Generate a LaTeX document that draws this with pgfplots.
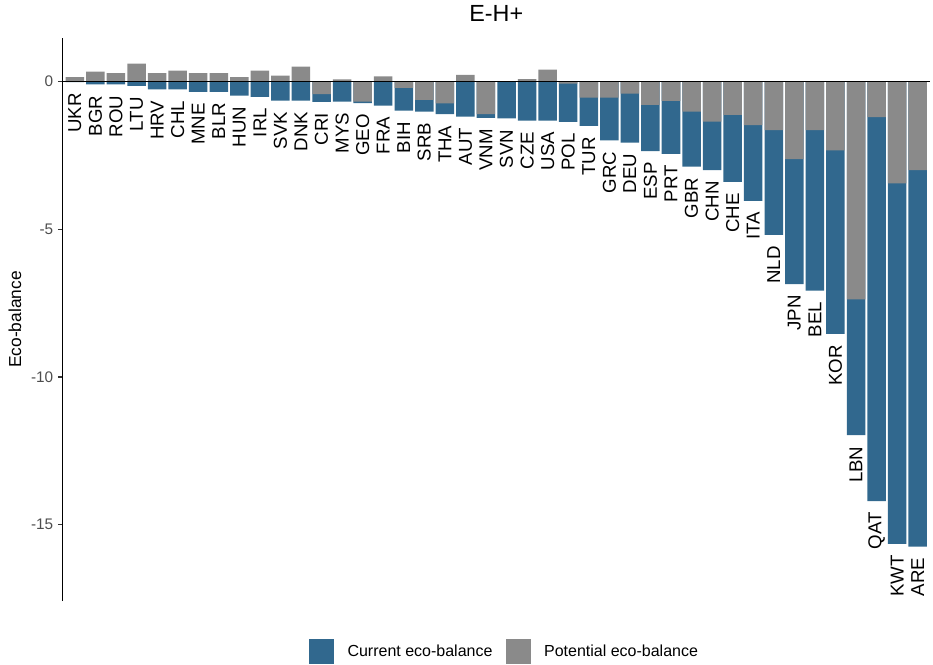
\documentclass[border=0pt]{standalone}
\usepackage{pgfplots}
\pgfplotsset{compat=1.18}
\usepackage{pgfplotstable}
\usepackage{fontspec}
\setmainfont{Liberation Sans}
\definecolor{curblue}{HTML}{31688E}
\definecolor{potgrey}{HTML}{8A8A8A}
\definecolor{grey30}{HTML}{4D4D4D}
\definecolor{grey20}{HTML}{333333}

\pgfplotstableread{
x cur pot lab
1 -0.02 0.15 UKR
2 -0.10 0.33 BGR
3 -0.10 0.28 ROU
4 -0.15 0.60 LTU
5 -0.27 0.28 HRV
6 -0.27 0.37 CHL
7 -0.35 0.28 MNE
8 -0.35 0.28 BLR
9 -0.48 0.15 HUN
10 -0.52 0.37 IRL
11 -0.65 0.20 SVK
12 -0.65 0.50 DNK
13 -0.69 -0.43 CRI
14 -0.68 0.07 MYS
15 -0.73 -0.68 GEO
16 -0.82 0.17 FRA
17 -0.99 -0.22 BIH
18 -1.02 -0.62 SRB
19 -1.11 -0.74 THA
20 -1.19 0.22 AUT
21 -1.23 -1.11 VNM
22 -1.25 0.01 SVN
23 -1.33 0.08 CZE
24 -1.33 0.40 USA
25 -1.37 -0.07 POL
26 -1.50 -0.55 TUR
27 -1.99 -0.55 GRC
28 -2.07 -0.41 DEU
29 -2.36 -0.79 ESP
30 -2.45 -0.66 PRT
31 -2.88 -1.02 GBR
32 -3.00 -1.36 CHN
33 -3.40 -1.13 CHE
34 -4.04 -1.48 ITA
35 -5.19 -1.65 NLD
36 -6.86 -2.63 JPN
37 -7.08 -1.65 BEL
38 -8.54 -2.33 KOR
39 -11.97 -7.37 LBN
40 -14.20 -1.21 QAT
41 -15.65 -3.45 KWT
42 -15.74 -3.00 ARE
}\datatable

\pgfplotsset{sqlegend/.style={legend image code/.code={\fill[##1,draw=none] (0bp,-9.4bp) rectangle (18.75bp,9.4bp);}}}

\begin{document}
\begin{tikzpicture}
\begin{axis}[
  scale only axis,
  width=650.6bp, height=422.25bp,
  xmin=0.4, xmax=42.6,
  ymin=-17.58, ymax=1.47,
  axis y line*=left,
  axis x line=none,
  xtick=\empty,
  ytick={-15,-10,-5,0},
  tick align=outside,
  major tick length=3.5bp,
  ytick style={grey20, line width=0.8bp},
  y axis line style={black, line width=1.1bp},
  yticklabel style={font=\fontsize{11.5bp}{13bp}\selectfont, color=grey30},
  /pgf/number format/assume math mode=true,
  clip=false,
  title={E-H+},
  every axis title/.style={at={(axis description cs:0.5,1)}, anchor=base, yshift=12.2bp, inner sep=0pt, font=\fontsize{17.5bp}{20bp}\selectfont},
  ylabel={Eco-balance},
  every axis y label/.style={at={(axis description cs:-0.0548,0.5)}, anchor=center, rotate=90, inner sep=0pt, font=\fontsize{13bp}{15bp}\selectfont},
  legend style={at={(0.510,-0.09)}, anchor=center, draw=none, fill=none,
    inner sep=0pt, row sep=0pt,
    legend columns=2, font=\fontsize{12bp}{14bp}\selectfont,
    /tikz/every even column/.append style={column sep=8bp},
    /tikz/every odd column/.append style={column sep=8bp}},
]
\addplot[ybar, bar width=0.9, bar shift=0pt, fill=curblue, draw=none, sqlegend,
  point meta=explicit symbolic, nodes near coords,
  nodes near coords style={rotate=90, anchor=east, inner xsep=8.3bp, inner ysep=0pt,
    font=\fontsize{14bp}{16bp}\selectfont, text=black}]
  table[x=x, y=cur, meta=lab] {\datatable};
\addlegendentry{Current eco-balance}
\addplot[ybar, bar width=0.9, bar shift=0pt, fill=potgrey, draw=none, sqlegend]
  table[x=x, y=pot] {\datatable};
\addlegendentry{Potential eco-balance}
\addplot[black, line width=1.1bp, forget plot, sharp plot, mark=none] coordinates {(0.4,0) (42.6,0)};
\end{axis}
\path ([xshift=-46.9bp, yshift=-48bp]current axis.south west) rectangle ([xshift=2.25bp, yshift=28.5bp]current axis.north east);
\end{tikzpicture}
\end{document}
